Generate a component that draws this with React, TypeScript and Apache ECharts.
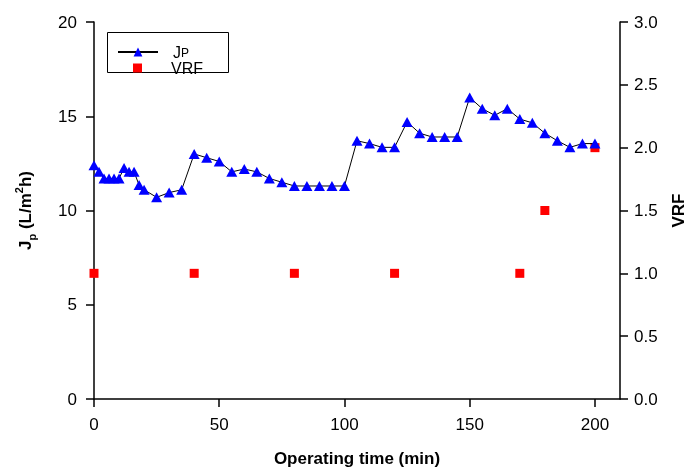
import React, { useEffect, useRef } from "react";
import * as echarts from "echarts";

const timeMin = [0, 2, 4, 6, 8, 10, 12, 14, 16, 18, 20, 25, 30, 35, 40, 45, 50, 55, 60, 65, 70, 75, 80, 85, 90, 95, 100, 105, 110, 115, 120, 125, 130, 135, 140, 145, 150, 155, 160, 165, 170, 175, 180, 185, 190, 195, 200];
const jpValues = [12.4, 12.05, 11.7, 11.7, 11.7, 11.7, 12.25, 12.05, 12.05, 11.35, 11.1, 10.7, 10.95, 11.1, 13.0, 12.8, 12.6, 12.05, 12.2, 12.05, 11.7, 11.5, 11.3, 11.3, 11.3, 11.3, 11.3, 13.7, 13.55, 13.35, 13.35, 14.7, 14.1, 13.9, 13.9, 13.9, 16.0, 15.4, 15.05, 15.4, 14.85, 14.65, 14.1, 13.7, 13.35, 13.55, 13.55];
const vrfTime = [0, 40, 80, 120, 170, 180, 200];
const vrfValues = [1.0, 1.0, 1.0, 1.0, 1.0, 1.5, 2.0];
const xTicks = [0, 50, 100, 150, 200];

const FONT = "Liberation Sans, Arial, sans-serif";

export default function App() {
  const ref = useRef<HTMLDivElement>(null);
  useEffect(() => {
    if (!ref.current) return;
    const chart = echarts.init(ref.current, null, { renderer: "svg" });
    chart.setOption({
      animation: false,
      textStyle: { fontFamily: FONT, color: "#000" },
      grid: { left: 94, right: 68, top: 22, bottom: 71, containLabel: false, outerBoundsMode: "none" },
      xAxis: {
        type: "value",
        min: 0,
        max: 210,
        interval: 50,
        name: "Operating time (min)",
        nameLocation: "middle",
        nameGap: 51,
        nameTextStyle: { fontSize: 17, fontWeight: "bold", color: "#000", fontFamily: FONT },
        axisLine: { onZero: false, lineStyle: { color: "#000", width: 1.5 } },
        axisTick: { show: true, length: 8, inside: false, customValues: xTicks, lineStyle: { color: "#000", width: 1.5 } },
        axisLabel: { fontSize: 17, color: "#000", margin: 17, fontFamily: FONT, customValues: xTicks },
        splitLine: { show: false },
      },
      yAxis: [
        {
          type: "value",
          min: 0,
          max: 20,
          interval: 5,
          position: "left",
          name: "J{sub|p} (L/m{sup|2}h)",
          nameLocation: "middle",
          nameRotate: 90,
          nameGap: 57,
          nameTextStyle: {
            fontSize: 17,
            fontWeight: "bold",
            color: "#000",
            fontFamily: FONT,
            lineHeight: 24,
            rich: {
              sub: { fontSize: 11, fontWeight: "bold", fontFamily: FONT, color: "#000", verticalAlign: "bottom", lineHeight: 24 },
              sup: { fontSize: 11, fontWeight: "bold", fontFamily: FONT, color: "#000", verticalAlign: "top", lineHeight: 24 },
            },
          },
          axisLine: { show: true, lineStyle: { color: "#000", width: 1.5 } },
          axisTick: { show: true, length: 8, lineStyle: { color: "#000", width: 1.5 } },
          axisLabel: { fontSize: 17, color: "#000", margin: 17, fontFamily: FONT },
          splitLine: { show: false },
        },
        {
          type: "value",
          min: 0,
          max: 3,
          interval: 0.5,
          position: "right",
          name: "VRF",
          nameLocation: "middle",
          nameRotate: 90,
          nameGap: 50,
          nameTextStyle: { fontSize: 17, fontWeight: "bold", color: "#000", fontFamily: FONT },
          axisLine: { show: true, lineStyle: { color: "#000", width: 1.5 } },
          axisTick: { show: true, length: 8, lineStyle: { color: "#000", width: 1.5 } },
          axisLabel: { fontSize: 17, color: "#000", margin: 14, fontFamily: FONT, formatter: (v: number) => v.toFixed(1) },
          splitLine: { show: false },
        },
      ],
      legend: [
        {
          data: ["Jp"],
          left: 117,
          top: 44,
          padding: 0,
          itemWidth: 40,
          itemHeight: 11,
          formatter: () => "{j|J}{p|P}",
          textStyle: {
            fontSize: 16,
            color: "#000",
            fontFamily: FONT,
            lineHeight: 13,
            padding: [0, 0, 0, 10],
            rich: {
              j: { fontSize: 16, fontFamily: FONT, color: "#000", lineHeight: 13 },
              p: { fontSize: 12, fontFamily: FONT, color: "#000", lineHeight: 11, padding: [2, 0, 0, 0] },
            },
          },
        },
        {
          data: ["VRF"],
          left: 133,
          top: 60,
          padding: 0,
          itemWidth: 9,
          itemHeight: 9,
          textStyle: { fontSize: 16, color: "#000", fontFamily: FONT, lineHeight: 12, padding: [0, 0, 0, 24] },
        },
      ],
      graphic: [
        {
          type: "rect",
          left: 107,
          top: 32,
          shape: { width: 121, height: 40 },
          style: { fill: "transparent", stroke: "#000", lineWidth: 1 },
          z: -1,
        },
      ],
      series: [
        {
          name: "Jp",
          type: "line",
          yAxisIndex: 0,
          data: timeMin.map((t, i) => [t, jpValues[i]]),
          symbol: "triangle",
          symbolSize: [11, 10],
          showAllSymbol: true,
          itemStyle: { color: "#0000ff", borderWidth: 0 },
          lineStyle: { color: "#000", width: 1 },
          emphasis: { disabled: true },
        },
        {
          name: "VRF",
          type: "scatter",
          yAxisIndex: 1,
          data: vrfTime.map((t, i) => [t, vrfValues[i]]),
          symbol: "rect",
          symbolSize: 9,
          itemStyle: { color: "#ff0000", opacity: 1 },
          emphasis: { disabled: true },
        },
      ],
    });
    return () => chart.dispose();
  }, []);
  return <div ref={ref} style={{ position: "fixed", left: 0, top: 0, width: 688, height: 470 }} />;
}
